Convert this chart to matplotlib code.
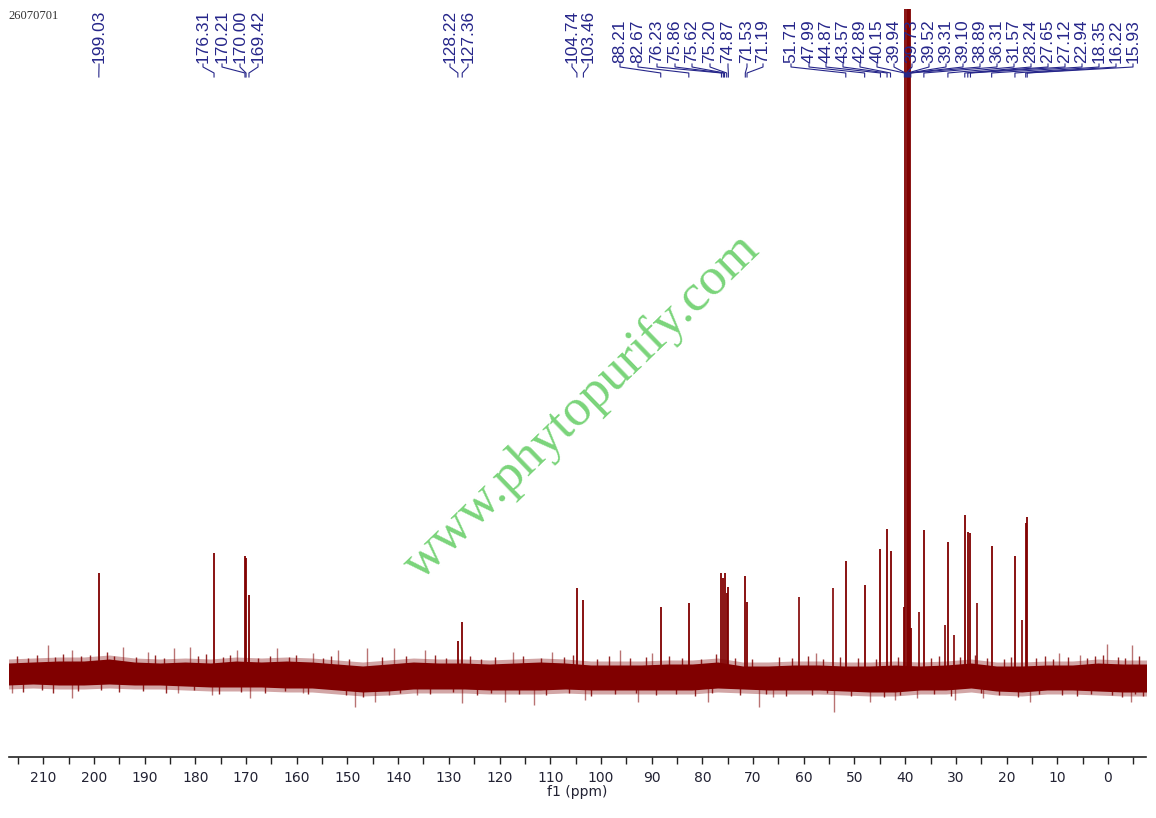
import matplotlib
matplotlib.use("Agg")
import matplotlib.pyplot as plt
from matplotlib.lines import Line2D
from matplotlib.ticker import MultipleLocator

# labelled 13C peaks (ppm) and heights above baseline (arbitrary units)
peak_ppm = [199.03, 176.31, 170.21, 170.00, 169.42, 128.22, 127.36, 104.74, 103.46,
            88.21, 82.67, 76.23, 75.86, 75.62, 75.20, 74.87, 71.53, 71.19,
            51.71, 47.99, 44.87, 43.57, 42.89, 40.15, 39.94, 39.73, 39.52, 39.31,
            39.10, 38.89, 36.31, 31.57, 28.24, 27.65, 27.12, 22.94, 18.35, 16.22, 15.93]
peak_height = [100, 120, 117, 115, 78, 32, 51, 85, 73,
               66, 70, 100, 95, 100, 80, 86, 97, 71,
               112, 88, 124, 144, 122, 66, 900, 1500, 1700, 1500,
               900, 45, 143, 131, 158, 141, 140, 127, 117, 150, 156]

# lines visible in the spectrum but not labelled
extra_ppm = [61.0, 54.25, 37.36, 32.2, 30.3, 25.85, 16.97]
extra_height = [76, 85, 61, 48, 38, 70, 53]

# baseline noise envelope (dense core)
band_ppm = [217, 212, 207, 202, 197, 192, 187, 182, 177, 172, 167, 162, 157, 152, 147,
            142, 137, 132, 127, 122, 117, 112, 107, 102, 97, 92, 87, 82, 77, 72, 67,
            62, 57, 52, 47, 42, 37, 32, 27, 22, 17, 12, 7, 2, -3, -8]
band_hi = [10, 11, 12, 12, 14, 11, 10, 11, 10, 12, 11, 12, 11, 9, 7,
           9, 11, 10, 10, 9, 10, 11, 10, 8, 8, 8, 9, 9, 11, 7, 7,
           8, 8, 7, 7, 8, 7, 8, 10, 7, 7, 8, 8, 10, 9, 9]
band_lo = [-12, -11, -12, -12, -11, -12, -12, -13, -14, -14, -14, -15, -15, -17, -19,
           -18, -16, -16, -16, -17, -17, -17, -16, -17, -17, -17, -17, -17, -15, -16, -17,
           -17, -17, -18, -19, -19, -17, -17, -15, -18, -19, -17, -17, -18, -19, -19]

# single noise spikes sticking out of the band
noise_ppm = [209.0, 204.4, 194.2, 189.3, 184.3, 181.0, 171.8, 163.9, 156.7, 151.8, 146.2,
             140.9, 134.7, 117.3, 109.7, 96.2, 90.0, 57.5, 9.7, 5.5, 0.2, -4.7,
             216.2, 204.3, 183.4, 176.8, 169.2, 158.7, 148.5, 144.5, 141.9, 136.3, 127.4,
             118.9, 113.3, 103.1, 92.6, 78.8, 68.9, 66.0, 54.1, 46.9, 42.0, 37.7, 30.1,
             24.6, 15.3, -4.6]
noise_amp = [28, 23, 26, 21, 25, 26, 23, 25, 20, 23, 25,
             25, 23, 21, 21, 23, 20, 20, 20, 18, 29, 28,
             -20, -25, -20, -22, -25, -20, -34, -29, -22, -22, -30,
             -29, -32, -27, -29, -29, -34, -24, -39, -29, -27, -25, -27,
             -25, -29, -29]

# shorter noise spikes giving the band its ragged edge
fuzz_ppm = [215.1, 213.0, 211.2, 207.6, 206.1, 202.5, 200.8, 197.4, 196.0, 191.7, 187.9,
            186.2, 179.4, 177.9, 174.5, 173.1, 167.7, 165.2, 161.5, 160.1, 154.9, 153.2,
            149.6, 143.1, 138.4, 132.8, 130.5, 125.9, 123.6, 120.8, 115.4, 111.9, 107.3,
            105.6, 100.7, 98.4, 94.3, 91.2, 86.5, 84.1, 80.3, 77.4, 73.6, 70.2, 64.8,
            62.3, 59.1, 56.2, 52.9, 49.4, 45.8, 41.4, 35.0, 33.4, 29.2, 26.3, 23.8,
            20.6, 19.1, 14.2, 12.5, 10.8, 7.9, 4.1, 2.6, 1.0, -1.9, -3.4, -6.1,
            214.0, 210.3, 208.1, 203.2, 198.6, 195.1, 190.4, 185.7, 180.2, 175.3, 171.0,
            166.3, 162.4, 157.8, 150.3, 146.9, 139.6, 133.7, 129.2, 124.4, 121.6, 116.1,
            110.8, 106.4, 101.9, 97.3, 93.0, 89.1, 85.2, 81.4, 78.0, 72.5, 67.4, 63.5,
            58.3, 55.4, 50.6, 44.2, 41.0, 34.4, 31.0, 25.0, 21.5, 17.8, 13.6, 9.0,
            6.2, 3.3, -0.7, -2.8, -5.4, -7.0]
fuzz_amp = [17, 15, 18, 16, 19, 17, 18, 21, 17, 16, 18,
            15, 17, 19, 16, 18, 15, 17, 16, 18, 15, 17,
            14, 16, 17, 18, 15, 17, 14, 16, 17, 15, 16,
            18, 14, 17, 15, 16, 17, 15, 14, 19, 15, 14, 16,
            15, 17, 14, 16, 15, 14, 16, 15, 17, 16, 18, 15,
            14, 16, 15, 17, 14, 16, 15, 17, 18, 16, 15, 17,
            -19, -17, -20, -18, -17, -19, -18, -20, -17, -21, -19,
            -20, -18, -21, -22, -24, -20, -21, -19, -22, -20, -21,
            -22, -20, -23, -21, -20, -22, -21, -23, -20, -22, -21, -23,
            -22, -20, -23, -24, -22, -21, -23, -20, -22, -24, -21, -22,
            -23, -21, -22, -24, -21, -23]

# x pixel of each rotated label (layout only)
label_slots_px = [99, 203, 222, 240, 258, 450, 468, 572, 588,
                  620, 638, 657, 675, 692, 710, 728, 747, 763,
                  791, 809, 826, 843, 860, 877, 894, 912, 929, 946, 963, 980,
                  997, 1014, 1031, 1048, 1065, 1082, 1099, 1116, 1133]

W, H = 1156, 818
RED = "#800000"
NAVY = "#26268a"

fig = plt.figure(figsize=(W / 100, H / 100), dpi=100)
ax = fig.add_axes([9 / W, 1 - 757 / H, 1137 / W, 748 / H])

ax.fill_between(band_ppm, [h + 4 for h in band_hi], [l - 4 for l in band_lo],
                color=RED, alpha=0.35, lw=0)
ax.fill_between(band_ppm, band_hi, band_lo, color=RED, lw=0)
ax.vlines(fuzz_ppm, 0, fuzz_amp, color=RED, lw=1.0, alpha=0.85)
ax.vlines(noise_ppm, 0, noise_amp, color=RED, lw=1.0, alpha=0.55)
ax.vlines(extra_ppm, 0, extra_height, color=RED, lw=1.2)
ax.vlines(peak_ppm, 0, peak_height, color=RED, lw=1.3)

ax.set_ylim(-84, 664)

for side in ["left", "right", "top"]:
    ax.spines[side].set_visible(False)
ax.spines["bottom"].set_linewidth(1.2)
ax.spines["bottom"].set_color("#222222")
ax.set_yticks([])
ax.xaxis.set_minor_locator(MultipleLocator(5))
ax.set_xticks(range(0, 211, 10))
ax.tick_params(axis="x", which="both", direction="out", length=5, width=1,
               color="#222222", labelsize=10, labelcolor="#222233", pad=5)
ax.set_xlabel("f1 (ppm)", fontsize=10, color="#222233", labelpad=0)
ax.set_xlim(216.75, -7.5)

# peak labels with connector lines (figure pixel coords)
for p, lx in zip(peak_ppm, label_slots_px):
    px = ax.transData.transform((p, 0))[0]
    fig.text(lx / W, 1 - 63 / H, f"{p:.2f}", rotation=90, ha="center", va="bottom",
             fontsize=12.5, color=NAVY, family="Liberation Sans")
    xs = [lx, lx, px, px]
    ys = [64, 67, 73, 77]
    fig.add_artist(Line2D([x / W for x in xs], [1 - y / H for y in ys],
                          transform=fig.transFigure, color=NAVY, lw=0.8))

fig.text(8 / W, 1 - 16 / H, "26070701", ha="left", va="center", fontsize=9,
         family="Liberation Serif", color="#333333")

fig.text(582 / W, 1 - 407 / H, "www.phytopurify.com", rotation=44, ha="center",
         va="center", fontsize=38, family="Liberation Serif", color="#7ad47a",
         rotation_mode="anchor")

fig.savefig("out.png", dpi=100)
